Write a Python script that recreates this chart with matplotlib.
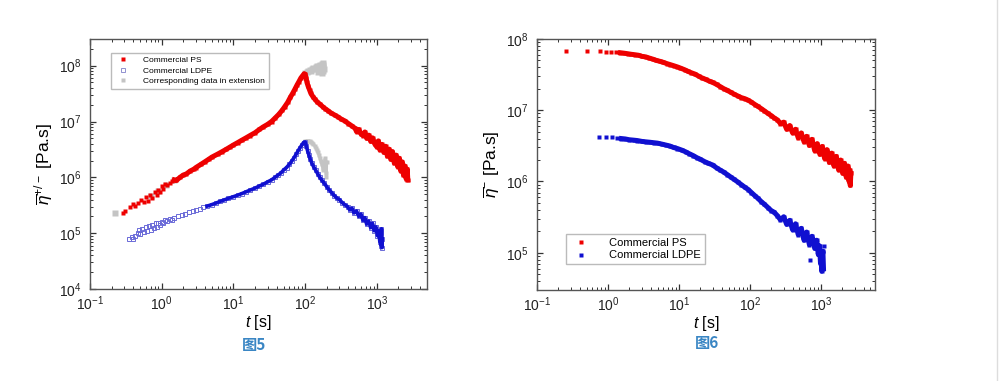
import numpy as np
import matplotlib.pyplot as plt
from matplotlib.ticker import LogLocator, NullFormatter

plt.rcParams['font.family'] = ['Liberation Sans', 'DejaVu Sans']
plt.rcParams['mathtext.fontset'] = 'custom'
plt.rcParams['mathtext.rm'] = 'Liberation Sans'
plt.rcParams['mathtext.it'] = 'Liberation Sans:italic'
plt.rcParams['mathtext.bf'] = 'Liberation Sans:bold'

RED = '#ee0000'
BLUE = '#1010d0'
GRAY = '#c4c4c4'

# ---- Fig 5 data ----
ps5_t = [0.29, 0.31, 0.36, 0.40, 0.43, 0.47, 0.52, 0.56, 0.60, 0.64, 0.68, 0.74, 0.80, 0.85,
         0.90, 0.95, 1.0, 1.05, 1.1, 1.2, 1.3, 1.4, 1.5, 1.6, 1.8, 2.0, 2.2, 2.5, 2.8, 3.0,
         3.5, 4, 4.5, 5, 6, 7, 8, 9, 10, 11.5, 13, 15, 17, 20, 23, 26, 30, 34, 38, 43, 48,
         52, 57, 62, 67, 72, 77, 82, 87, 92, 97, 100, 103, 106, 110, 115, 120, 128, 137, 147,
         160, 175, 190, 210, 230, 260, 290, 320, 360, 400, 450, 500, 520, 560, 600, 640, 680,
         720, 770, 820, 870, 930, 1000, 1050, 1100, 1170, 1250, 1320, 1400, 1480, 1560, 1650,
         1750, 1850, 1950, 2050, 2150, 2250, 2350, 2450, 2550, 2650, 2700]
ps5_eta = [2.3e5, 2.5e5, 3.0e5, 3.3e5, 3.1e5, 3.5e5, 4.0e5, 3.6e5, 4.5e5, 3.8e5, 4.8e5, 4.3e5,
           5.5e5, 4.8e5, 6.0e5, 5.5e5, 7.0e5, 6.3e5, 7.5e5, 7.2e5, 8.0e5, 8.5e5, 9.0e5, 8.8e5,
           1.0e6, 1.1e6, 1.15e6, 1.3e6, 1.4e6, 1.5e6, 1.7e6, 1.9e6, 2.1e6, 2.3e6, 2.6e6, 2.9e6,
           3.2e6, 3.5e6, 3.8e6, 4.2e6, 4.6e6, 5.1e6, 5.6e6, 6.3e6, 7.2e6, 8.0e6, 8.9e6, 1.0e7,
           1.15e7, 1.35e7, 1.6e7, 1.85e7, 2.2e7, 2.7e7, 3.2e7, 3.8e7, 4.5e7, 5.2e7, 6.0e7, 6.6e7,
           7.2e7, 7.0e7, 6.0e7, 5.0e7, 4.3e7, 3.7e7, 3.2e7, 2.8e7, 2.5e7, 2.25e7, 2.05e7, 1.85e7,
           1.7e7, 1.55e7, 1.42e7, 1.3e7, 1.2e7, 1.1e7, 1.02e7, 9.2e6, 8.3e6, 7.5e6, 6.6e6, 7.2e6,
           6.0e6, 5.6e6, 6.5e6, 5.0e6, 5.7e6, 4.4e6, 5.1e6, 4.0e6, 3.5e6, 4.5e6, 3.1e6, 3.9e6,
           2.8e6, 3.6e6, 2.4e6, 3.2e6, 2.1e6, 2.9e6, 1.8e6, 2.5e6, 1.55e6, 2.2e6, 1.3e6, 1.9e6,
           1.1e6, 1.6e6, 0.95e6, 1.4e6, 0.9e6]

ldpe5_t = [0.35, 0.38, 0.40, 0.42, 0.46, 0.48, 0.50, 0.53, 0.56, 0.60, 0.62, 0.66, 0.70, 0.74,
           0.78, 0.82, 0.86, 0.90, 0.95, 1.0, 1.05, 1.1, 1.2, 1.3, 1.4, 1.5, 1.7, 1.9, 2.1, 2.4,
           2.7, 3.0, 3.4, 3.8, 4.3, 5, 5.7, 6.5, 7.5, 8.5, 10, 11.5, 13, 15, 17, 20, 23, 26, 30,
           34, 38, 42, 46, 50, 55, 60, 65, 70, 75, 80, 85, 90, 95, 100, 104, 108, 113, 118, 124,
           131, 140, 150, 160, 172, 185, 200, 215, 235, 255, 280, 300, 330, 360, 390, 420, 450,
           480, 520, 560, 600, 640, 680, 720, 770, 820, 870, 920, 970, 1020, 1060, 1100, 1130,
           1150, 1160, 1170, 1180]
ldpe5_eta = [8e4, 8.5e4, 7.8e4, 8.8e4, 1.0e5, 1.15e5, 0.95e5, 1.2e5, 1.05e5, 1.3e5, 1.1e5,
             1.35e5, 1.15e5, 1.4e5, 1.25e5, 1.5e5, 1.3e5, 1.55e5, 1.4e5, 1.6e5, 1.5e5, 1.7e5,
             1.65e5, 1.8e5, 1.75e5, 1.9e5, 2.0e5, 2.1e5, 2.2e5, 2.35e5, 2.5e5, 2.6e5, 2.75e5,
             2.9e5, 3.05e5, 3.25e5, 3.45e5, 3.7e5, 3.95e5, 4.2e5, 4.5e5, 4.8e5, 5.1e5, 5.5e5,
             5.9e5, 6.4e5, 7.0e5, 7.5e5, 8.3e5, 9.0e5, 1.0e6, 1.1e6, 1.2e6, 1.35e6, 1.5e6, 1.7e6,
             1.95e6, 2.25e6, 2.6e6, 3.0e6, 3.4e6, 3.8e6, 4.2e6, 4.3e6, 3.6e6, 3.0e6, 2.5e6,
             2.1e6, 1.8e6, 1.55e6, 1.35e6, 1.15e6, 1.0e6, 8.8e5, 7.8e5, 6.8e5, 6.0e5, 5.3e5,
             4.7e5, 4.2e5, 4.0e5, 3.5e5, 3.2e5, 3.0e5, 2.6e5, 2.8e5, 2.3e5, 2.5e5, 2.0e5, 2.2e5,
             1.7e5, 1.9e5, 1.45e5, 1.65e5, 1.25e5, 1.5e5, 1.1e5, 1.3e5, 0.9e5, 1.1e5, 0.7e5,
             1.0e5, 0.6e5, 1.2e5, 0.55e5, 0.8e5]

ps_ext_t = [0.22, 0.7, 0.9, 1.15, 1.5,
            100, 105, 110, 115, 120, 125, 130, 135, 140, 145, 150, 150, 155, 160, 165, 170, 170,
            175, 178, 180, 180, 182]
ps_ext_eta = [2.3e5, 4.6e5, 5.8e5, 7.3e5, 8.8e5,
              7.3e7, 7.6e7, 7.9e7, 8.3e7, 8.0e7, 8.6e7, 9.0e7, 8.7e7, 9.3e7, 9.8e7, 9.2e7, 7.8e7,
              1.0e8, 1.05e8, 9.6e7, 1.08e8, 7.5e7, 1.1e8, 9.5e7, 1.02e8, 8.0e7, 8.8e7]
ldpe_ext_t = [100, 105, 110, 115, 120, 125, 130, 135, 140, 145, 150, 155, 160, 165, 170, 175,
              180, 185, 190, 192, 195, 198, 200]
ldpe_ext_eta = [4.4e6, 4.5e6, 4.4e6, 4.5e6, 4.3e6, 4.2e6, 4.0e6, 3.7e6, 3.4e6, 3.1e6, 2.8e6,
                2.5e6, 2.2e6, 1.95e6, 1.7e6, 1.5e6, 1.35e6, 1.8e6, 2.2e6, 1.5e6, 1.2e6, 1.0e6,
                1.9e6]

# ---- Fig 6 data ----
ps6_t = [0.26, 0.51, 0.76, 0.95, 1.1, 1.3, 1.5, 1.7, 1.9, 2.1, 2.4, 2.7, 3.0, 3.4, 3.8, 4.3,
         4.8, 5.4, 6, 6.8, 7.6, 8.5, 9.5, 10.5, 12, 13.5, 15, 17, 19, 21, 24, 27, 30, 34, 38,
         43, 48, 54, 60, 68, 76, 85, 95, 105, 118, 130, 145, 160, 180, 200, 220, 245, 270, 300,
         330, 365, 400, 440, 480, 530, 580, 630, 690, 750, 820, 890, 970, 1050, 1130, 1220,
         1320, 1420, 1530, 1650, 1780, 1900, 2030, 2150, 2280, 2400, 2500, 2550, 2600, 2650]
ps6_eta = [6.8e7, 6.7e7, 6.8e7, 6.6e7, 6.6e7, 6.5e7, 6.4e7, 6.3e7, 6.2e7, 6.1e7, 6.0e7, 5.9e7,
           5.7e7, 5.6e7, 5.4e7, 5.2e7, 5.0e7, 4.85e7, 4.7e7, 4.5e7, 4.35e7, 4.2e7, 4.05e7,
           3.9e7, 3.7e7, 3.5e7, 3.35e7, 3.2e7, 3.0e7, 2.85e7, 2.7e7, 2.55e7, 2.45e7, 2.3e7,
           2.15e7, 2.0e7, 1.9e7, 1.78e7, 1.68e7, 1.58e7, 1.5e7, 1.45e7, 1.38e7, 1.3e7, 1.2e7,
           1.13e7, 1.05e7, 9.8e6, 9.0e6, 8.4e6, 7.8e6, 7.3e6, 6.5e6, 6.8e6, 5.4e6, 6.1e6, 4.8e6,
           5.4e6, 4.1e6, 4.8e6, 3.6e6, 4.3e6, 3.2e6, 3.9e6, 2.7e6, 3.4e6, 2.4e6, 3.1e6, 2.1e6,
           2.8e6, 1.85e6, 2.5e6, 1.65e6, 2.25e6, 1.45e6, 2.0e6, 1.3e6, 1.8e6, 1.15e6, 1.65e6,
           1.0e6, 1.45e6, 0.88e6, 1.3e6]

ldpe6_t = [0.75, 0.95, 1.15, 1.35, 1.55, 1.75, 2.0, 2.3, 2.6, 3.0, 3.4, 3.9, 4.4, 5, 5.7, 6.5,
           7.4, 8.4, 9.5, 11, 12.5, 14, 16, 18, 20, 23, 26, 30, 34, 38, 43, 48, 54, 60, 68, 76,
           85, 95, 105, 118, 130, 145, 160, 180, 200, 220, 245, 270, 300, 330, 365, 400, 440,
           480, 530, 580, 630, 690, 750, 820, 870, 920, 960, 990, 1010, 1030, 1050, 1070, 1090]
ldpe6_eta = [4.2e6, 4.2e6, 4.15e6, 4.05e6, 4.0e6, 3.95e6, 3.85e6, 3.8e6, 3.75e6, 3.65e6, 3.6e6,
             3.55e6, 3.5e6, 3.45e6, 3.35e6, 3.25e6, 3.15e6, 3.0e6, 2.9e6, 2.75e6, 2.6e6, 2.45e6,
             2.3e6, 2.15e6, 2.05e6, 1.9e6, 1.8e6, 1.7e6, 1.55e6, 1.45e6, 1.35e6, 1.25e6, 1.15e6,
             1.07e6, 9.8e5, 9.0e5, 8.3e5, 7.7e5, 7.0e5, 6.3e5, 5.8e5, 5.2e5, 4.8e5, 4.3e5,
             3.9e5, 3.7e5, 3.3e5, 2.9e5, 3.2e5, 2.5e5, 2.85e5, 2.1e5, 2.55e5, 1.8e5, 2.2e5,
             1.5e5, 1.95e5, 1.3e5, 1.7e5, 1.15e5, 1.5e5, 0.95e5, 1.25e5, 0.7e5, 1.05e5,
             0.55e5, 0.9e5, 1.05e5, 0.6e5]
ldpe6_out_t = [700, 1100]
ldpe6_out_eta = [0.8e5, 1.25e5]


def band(ax, t, eta, t_from, color, lw):
  t = np.asarray(t)
  eta = np.asarray(eta)
  keep = t >= t_from
  ax.plot(t[keep], eta[keep], '-', color=color, lw=lw, solid_joinstyle='round', zorder=2)


def style_axes(ax, ylim):
  ax.set_xscale('log')
  ax.set_yscale('log')
  ax.set_ylim(*ylim)
  for side in ax.spines.values():
    side.set_color('#555555')
    side.set_linewidth(1.0)
  ax.xaxis.set_major_locator(LogLocator(base=10, numticks=10))
  ax.yaxis.set_major_locator(LogLocator(base=10, numticks=10))
  ax.xaxis.set_minor_locator(LogLocator(base=10, subs=np.arange(2, 10), numticks=20))
  ax.yaxis.set_minor_locator(LogLocator(base=10, subs=np.arange(2, 10), numticks=20))
  ax.xaxis.set_minor_formatter(NullFormatter())
  ax.yaxis.set_minor_formatter(NullFormatter())
  ax.tick_params(which='both', direction='in', top=True, right=True, colors='#333333',
                 labelcolor='#222222', labelsize=10)
  ax.tick_params(which='major', length=4, width=0.9)
  ax.tick_params(axis='x', which='major', pad=4)
  ax.tick_params(axis='y', which='major', pad=6)
  ax.tick_params(which='minor', length=2, width=0.7)
  ax.set_xlabel(r'$t$ [s]', fontsize=11.5, labelpad=0)


fig = plt.figure(figsize=(10, 3.81), dpi=100)

# Fig 5
ax1 = fig.add_axes([0.09, 0.2415, 0.337, 0.656])
ax1.plot(ps_ext_t, ps_ext_eta, 's', color=GRAY, ms=4, mec='none', zorder=1,
         label='Corresponding data in extension')
ax1.plot(ldpe_ext_t, ldpe_ext_eta, 's', color=GRAY, ms=3.5, mec='none', zorder=1)
band(ax1, ldpe_ext_t, ldpe_ext_eta, 100, GRAY, 2.0)
ax1.plot(ps5_t, ps5_eta, 's', color=RED, ms=3.2, mec='none', zorder=3,
         label='Commercial PS')
band(ax1, ps5_t, ps5_eta, 1.5, RED, 3.6)
ax1.plot(ldpe5_t, ldpe5_eta, 's', mfc='none', mec='#6a6ad8', mew=0.7, ms=3.4, zorder=2,
         label='Commercial LDPE')
band(ax1, ldpe5_t, ldpe5_eta, 4.0, BLUE, 2.6)
style_axes(ax1, (1e4, 3e8))
ax1.set_xlim(0.1, 5000)
ax1.set_ylabel(r'$\overline{\eta}^{+/-}$ [Pa.s]', fontsize=12.5, labelpad=3)
h, l = ax1.get_legend_handles_labels()
leg1 = ax1.legend([h[1], h[2], h[0]], [l[1], l[2], l[0]], loc='upper left',
                  bbox_to_anchor=(0.05, 0.962), fontsize=6, frameon=True, fancybox=False,
                  edgecolor='#aaaaaa', handletextpad=1.4, borderpad=0.45, labelspacing=0.3,
                  markerscale=0.8)
leg1.legend_handles[1].set_markeredgecolor('#9090d0')

# Fig 6
ax2 = fig.add_axes([0.537, 0.2388, 0.338, 0.659])
ax2.plot(ps6_t, ps6_eta, 's', color=RED, ms=3.2, mec='none', label='Commercial PS')
band(ax2, ps6_t, ps6_eta, 1.5, RED, 3.6)
ax2.plot(ldpe6_t, ldpe6_eta, 's', color=BLUE, ms=3.2, mec='none', label='Commercial LDPE')
ax2.plot(ldpe6_out_t, ldpe6_out_eta, 's', color=BLUE, ms=3.2, mec='none')
band(ax2, ldpe6_t, ldpe6_eta, 1.5, BLUE, 3.6)
style_axes(ax2, (3e4, 1e8))
ax2.set_xlim(0.1, 5800)
ax2.set_ylabel(r'$\overline{\eta}^{-}$ [Pa.s]', fontsize=12.5, labelpad=3)
ax2.legend(loc='lower left', bbox_to_anchor=(0.07, 0.08), fontsize=8, frameon=True,
           fancybox=False, edgecolor='#aaaaaa', handletextpad=1.5, borderpad=0.35,
           labelspacing=0.25, markerscale=0.8)

cap_font = ['Noto Sans CJK SC', 'DejaVu Sans']
fig.text(0.254, 0.094, '图5', color='#3a86c4', fontsize=11, fontweight='bold',
         family=cap_font, ha='center', va='center')
fig.text(0.707, 0.100, '图6', color='#3a86c4', fontsize=11, fontweight='bold',
         family=cap_font, ha='center', va='center')

fig.add_artist(plt.Line2D([0.997, 0.997], [0, 1], color='#dddddd', lw=1))

fig.savefig('out.png', dpi=100)
